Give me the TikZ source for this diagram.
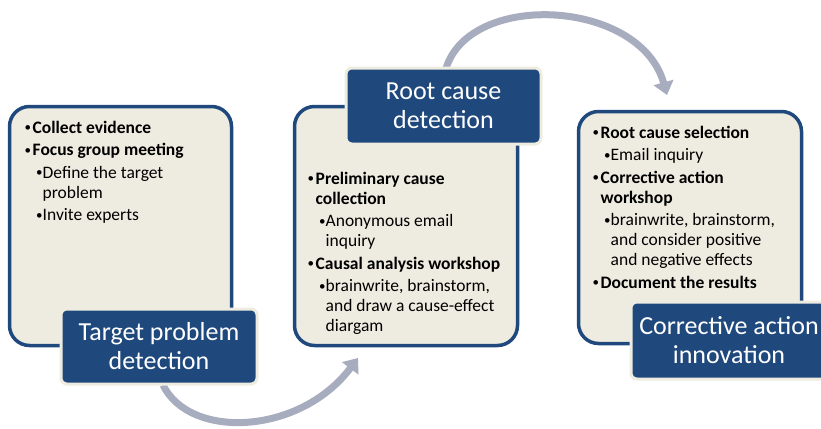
\documentclass[tikz,border=0pt]{standalone}
\usepackage{fontspec}
\setmainfont{Carlito}
\usetikzlibrary{arrows.meta}
\definecolor{navy}{HTML}{1F497D}
\definecolor{cream}{HTML}{EEECE1}
\definecolor{flow}{HTML}{A7ACBF}
% bullet list helpers
\newcommand\listdot{\raisebox{1.2pt}{\fontsize{13}{13}\selectfont\textbullet}}
\newcommand\lvone[1]{\par\noindent\hangindent=8.5pt\hangafter=1\makebox[8.5pt][l]{\hspace*{0.5pt}\listdot}\textbf{#1}}
\newcommand\lvtwo[1]{\par\noindent\hangindent=18.5pt\hangafter=1\hspace*{12pt}\makebox[6.5pt][l]{\listdot}#1}
\newcommand\listbox[1]{\parbox[t]{215pt}{\fontsize{17.5}{20}\selectfont\setlength\parskip{2.5pt}#1}}
\begin{document}
\begin{tikzpicture}[x=1pt,y=-1pt,
  panel/.style={draw=navy,fill=cream,line width=3.5pt,rounded corners=20pt,inner sep=0pt},
  stage/.style={draw=cream,fill=navy,line width=3pt,rounded corners=6pt,text=white,
    align=center,inner sep=0pt,font=\fontsize{26}{29}\selectfont},
  listtext/.style={anchor=base west,inner sep=0pt},
  flowarrow/.style={draw=flow,line width=7pt,-{Triangle[width=20pt,length=13pt]}}]
\useasboundingbox (0,0) rectangle (821,428);

% curved flow arrows (drawn first, so the boxes cover their tails)
\coordinate (a1s) at (163,385);
\coordinate (a1e) at (358,358);
\coordinate (a2s) at (445,72);
\coordinate (a2e) at (667,95);
\draw[flowarrow] (a1s) .. controls (190,440) and (300,435) .. (a1e);
\draw[flowarrow] (a2s) .. controls (465,-10) and (640,-2) .. (a2e);

% content panels
\node[panel,minimum width=222pt,minimum height=239pt] (lbox) at (120.5,226) {};
\node[panel,minimum width=223pt,minimum height=239pt] (mbox) at (406,226) {};
\node[panel,minimum width=223pt,minimum height=232pt] (rbox) at (690,227.5) {};

% panel texts
\node[listtext] (ltext) at (24,133) {\listbox{%
  \lvone{Collect evidence}
  \lvone{Focus group meeting}
  \lvtwo{Define the target\newline problem}
  \lvtwo{Invite experts}}};
\node[listtext] (mtext) at (307,184) {\listbox{%
  \lvone{Preliminary cause\newline collection}
  \lvtwo{Anonymous email\newline inquiry}
  \lvone{Causal analysis workshop}
  \lvtwo{brainwrite, brainstorm,\newline and draw a cause-effect\newline diargam}}};
\node[listtext] (rtext) at (592,138) {\listbox{%
  \lvone{Root cause selection}
  \lvtwo{Email inquiry}
  \lvone{Corrective action\newline workshop}
  \lvtwo{brainwrite, brainstorm,\newline and consider positive\newline and negative effects}
  \lvone{Document the results}}};

% stage titles
\node[stage,minimum width=196pt,minimum height=75pt] (ltitle) at (159,346.5) {Target problem\\detection};
\node[stage,minimum width=195pt,minimum height=76pt] (mtitle) at (443.5,106) {Root cause\\detection};
\node[stage,minimum width=196pt,minimum height=77pt] (rtitle) at (729,340.5) {Corrective action\\innovation};
\end{tikzpicture}
\end{document}
